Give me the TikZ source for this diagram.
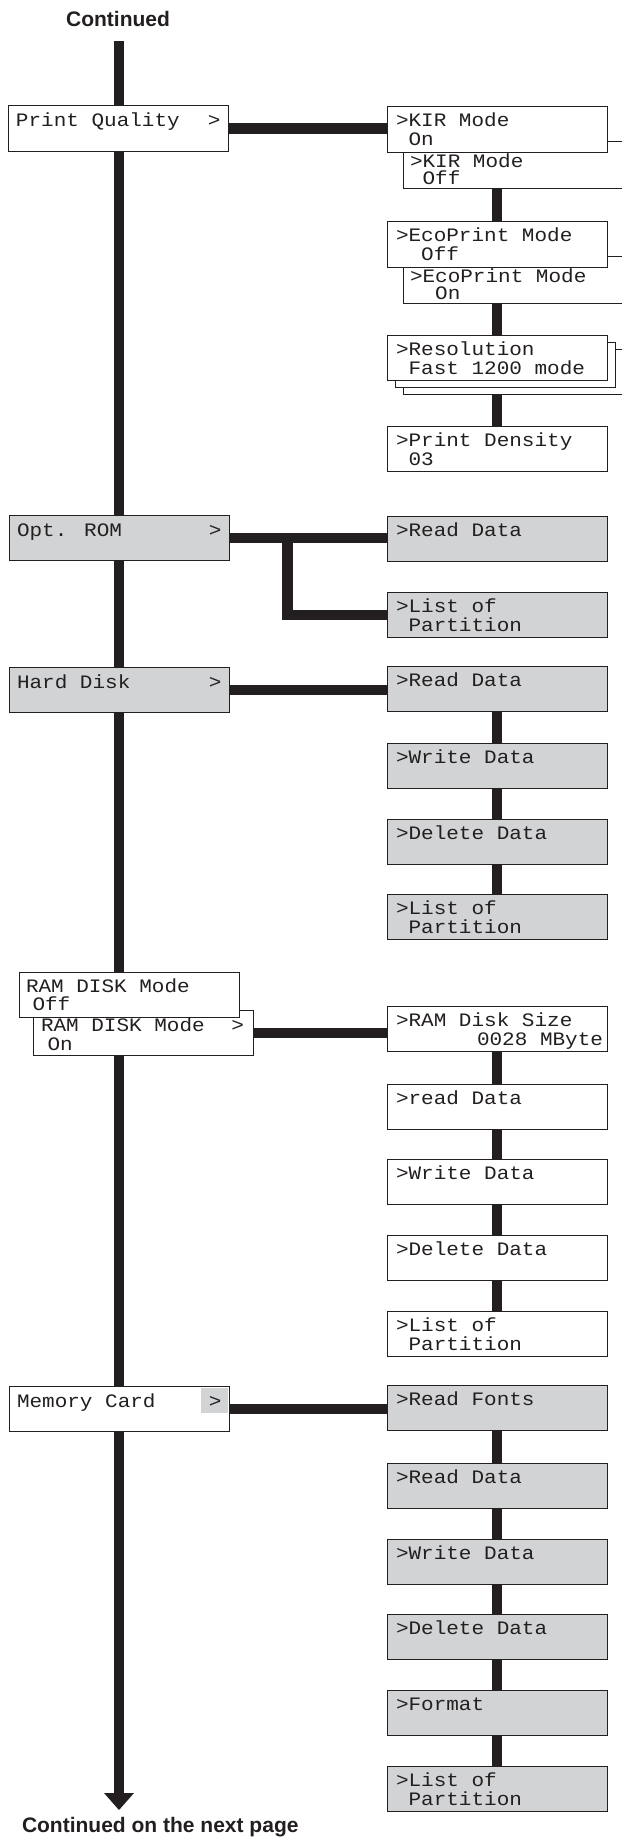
\documentclass[tikz,border=0pt]{standalone}
\usepackage{fontspec}
\setmainfont{Liberation Sans}
\newfontfamily\monof{Liberation Mono}[FakeStretch=1.105]
\definecolor{ink}{HTML}{231F20}
\definecolor{panel}{HTML}{D1D3D4}
\tikzset{
  box/.style={draw=ink, line width=1pt, fill=white, minimum width=220pt, minimum height=45.5pt, anchor=north west, inner sep=0pt, outer sep=0pt},
  gbox/.style={box, fill=panel},
  bbox/.style={box, minimum height=46.5pt},
  txt/.style={font=\monof\fontsize{19}{19}\selectfont, text=ink, anchor=base west, inner sep=0pt, outer sep=0pt},
  conn/.style={draw=ink, line width=10.5pt},
  ttl/.style={font=\bfseries\fontsize{21}{21}\selectfont, text=ink, inner sep=0pt, outer sep=0pt},
}
% #1 name #2 style #3 x #4 y #5 text dx #6 baseline dy #7 line1 #8 line2 #9 line spacing
\newcommand\menubox[9]{%
  \node[#2] (#1) at (#3,#4) {};
  \node[txt] (#1-a) at ([shift={(#5,#6)}]#1.north west) {#7};
  \node[txt] (#1-b) at ([shift={(#5,#6+#9)}]#1.north west) {#8};
}
\newcommand\rightbox[5]{\menubox{#1}{#2}{387}{#3}{9}{20}{#4}{#5}{19}}
\newcommand\mkarrow[2]{\node[txt, anchor=base east] (#1-m) at ([shift={(#2,21)}]#1.north east) {>};}
\begin{document}
\begin{tikzpicture}[x=1pt,y=-1pt]
\useasboundingbox (0,0) rectangle (621,1843);
% titles
\node[ttl, anchor=base] (cont) at (118,27) {Continued};
\node[ttl, anchor=base west] (next) at (22,1832) {Continued on the next page};
% main line
\coordinate (mtop) at (119,41);
\coordinate (mend) at (119,1793);
\coordinate (mtip) at (119,1810);
\draw[conn] (mtop) -- (mend);
\fill[ink] ([xshift=-15pt]mend) -- ([xshift=15pt]mend) -- (mtip) -- cycle;

% ---------- Print Quality group
\menubox{pq}{box}{8}{106}{8}{21}{Print Quality}{}{19}
\mkarrow{pq}{-7.5}
\menubox{kirb}{bbox}{403}{142}{7}{26}{>KIR Mode}{~Off}{17}
\rightbox{kir}{box}{107}{>KIR Mode}{~On}
\menubox{ecob}{bbox}{403}{257}{7}{26}{>EcoPrint Mode}{~~On}{17}
\rightbox{eco}{box}{222}{>EcoPrint Mode}{~~Off}
\node[box] (res3) at (403,349) {};
\node[box] (res2) at (395,342) {};
\rightbox{res}{box}{335}{>Resolution}{~Fast 1200 mode}
\rightbox{pd}{box}{426}{>Print Density}{~03}
\draw[conn] (pq.east) -- (pq.east -| kir.west);
\draw[conn] (kirb.south -| kir.south) -- (eco.north);
\draw[conn] (ecob.south -| eco.south) -- (res.north);
\draw[conn] (res3.south -| res.south) -- (pd.north);

% ---------- Opt. ROM group
\menubox{opt}{gbox}{9}{515}{8}{21}{Opt. ROM}{}{19}
\mkarrow{opt}{-7.5}
\rightbox{ord}{gbox}{516}{>Read Data}{}
\rightbox{olp}{gbox}{592}{>List of}{~Partition}
\coordinate (obr) at ([xshift=58.5pt]opt.east);
\draw[conn] (opt.east) -- (opt.east -| ord.west);
\draw[conn] (obr) |- (olp.west);

% ---------- Hard Disk group
\menubox{hd}{gbox}{9}{667}{8}{21}{Hard Disk}{}{19}
\mkarrow{hd}{-7.5}
\rightbox{hda}{gbox}{666}{>Read Data}{}
\rightbox{hdb}{gbox}{743}{>Write Data}{}
\rightbox{hdc}{gbox}{819}{>Delete Data}{}
\rightbox{hdd}{gbox}{894}{>List of}{~Partition}
\draw[conn] (hd.east) -- (hd.east -| hda.west);
\draw[conn] (hda.south) -- (hdb.north);
\draw[conn] (hdb.south) -- (hdc.north);
\draw[conn] (hdc.south) -- (hdd.north);

% ---------- RAM DISK group
\menubox{ramon}{box}{33}{1010}{8}{21}{RAM DISK Mode}{\hspace*{6.5pt}On}{19}
\mkarrow{ramon}{-9}
\menubox{ramoff}{box}{19}{972}{7}{20}{RAM DISK Mode}{\hspace*{6.5pt}Off}{18.5}
\node[box] (ra) at (387,1006) {};
\node[txt] (ra-a) at ([shift={(9,20)}]ra.north west) {>RAM Disk Size};
\node[txt, anchor=base east] (ra-b) at ([shift={(-4,39)}]ra.north east) {0028 MByte};
\rightbox{rb}{box}{1084}{>read Data}{}
\rightbox{rc}{box}{1159}{>Write Data}{}
\rightbox{rd}{box}{1235}{>Delete Data}{}
\rightbox{re}{box}{1311}{>List of}{~Partition}
\draw[conn] (ramon.east) -- (ramon.east -| ra.west);
\draw[conn] (ra.south) -- (rb.north);
\draw[conn] (rb.south) -- (rc.north);
\draw[conn] (rc.south) -- (rd.north);
\draw[conn] (rd.south) -- (re.north);

% ---------- Memory Card group
\menubox{mc}{box}{9}{1386}{8}{21}{Memory Card}{}{19}
\fill[panel] ([shift={(-28,1.5)}]mc.north east) rectangle ([shift={(-0.55,27)}]mc.north east);
\mkarrow{mc}{-7.5}
\rightbox{ma}{gbox}{1385}{>Read Fonts}{}
\rightbox{mb}{gbox}{1463}{>Read Data}{}
\rightbox{mcc}{gbox}{1539}{>Write Data}{}
\rightbox{md}{gbox}{1614}{>Delete Data}{}
\rightbox{me}{gbox}{1690}{>Format}{}
\rightbox{mf}{gbox}{1766}{>List of}{~Partition}
\draw[conn] (mc.east) -- (mc.east -| ma.west);
\draw[conn] (ma.south) -- (mb.north);
\draw[conn] (mb.south) -- (mcc.north);
\draw[conn] (mcc.south) -- (md.north);
\draw[conn] (md.south) -- (me.north);
\draw[conn] (me.south) -- (mf.north);
\end{tikzpicture}
\end{document}
